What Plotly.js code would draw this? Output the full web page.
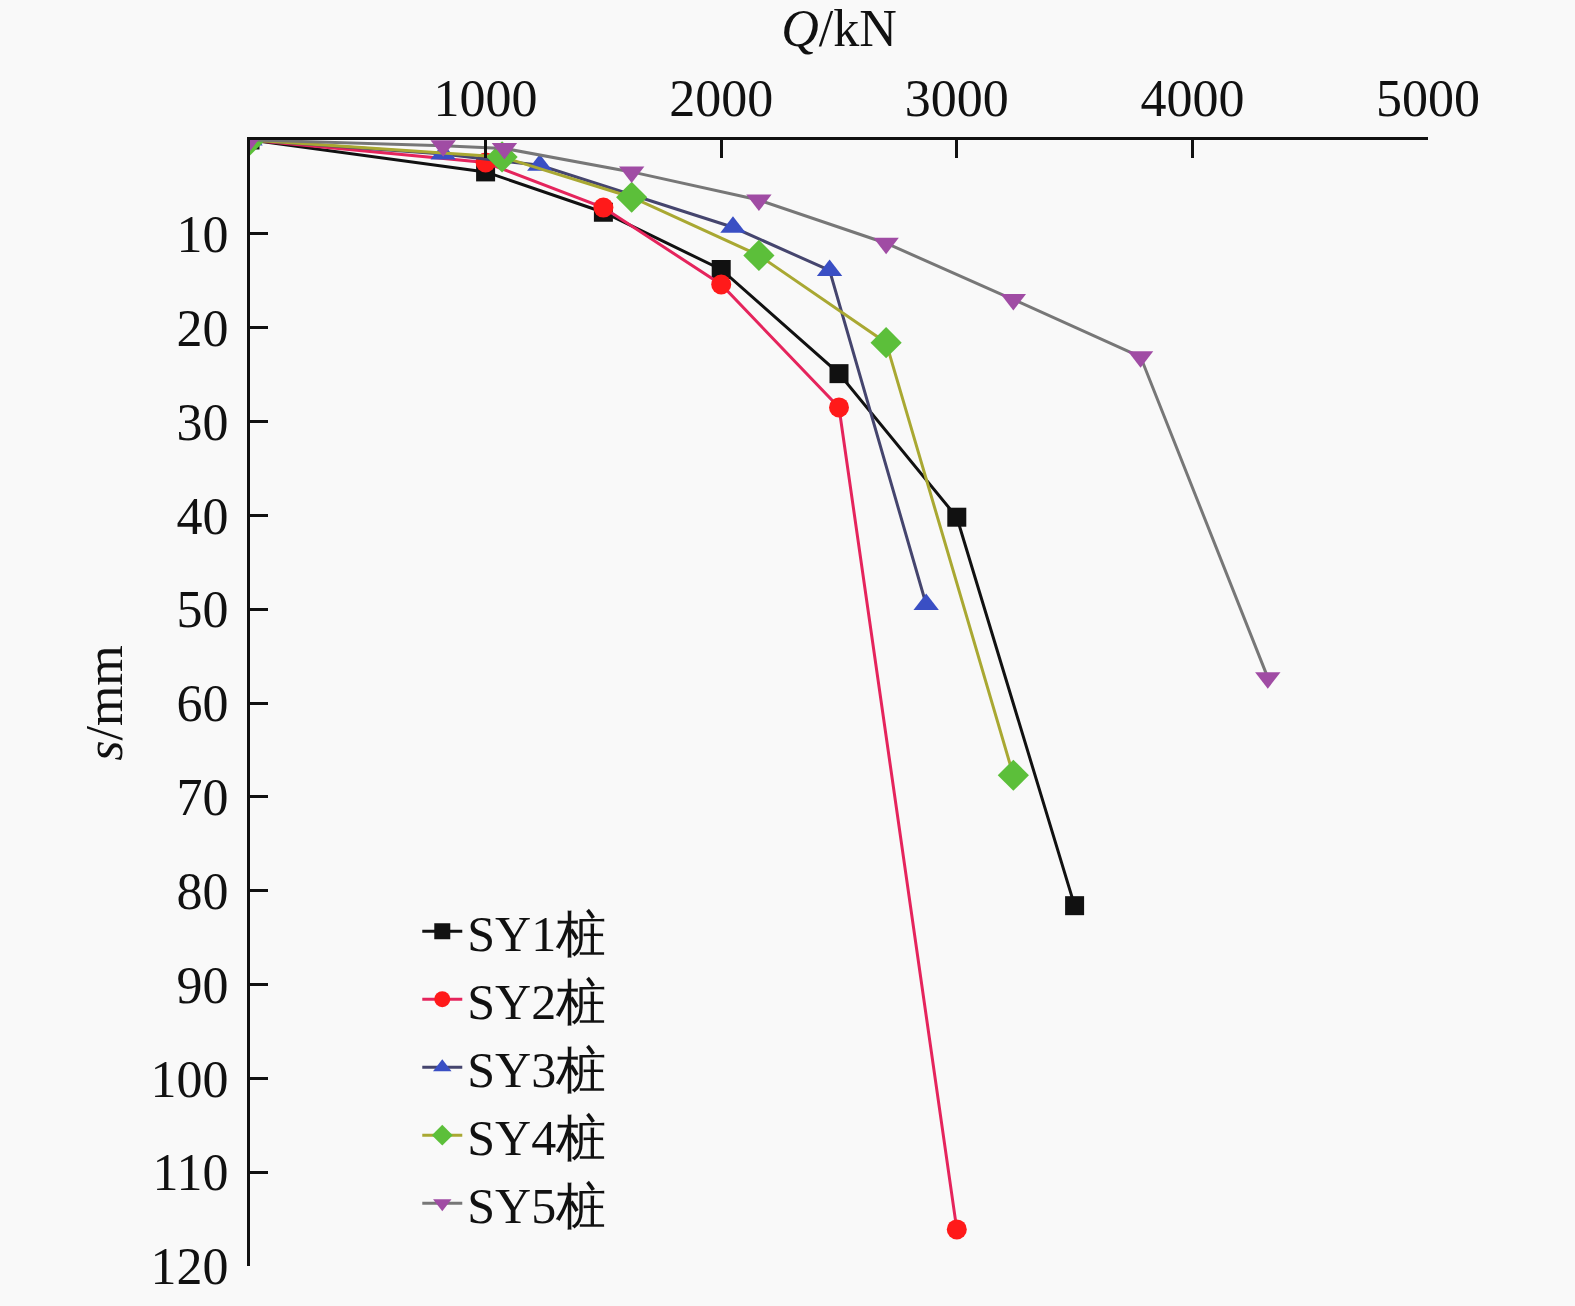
<!DOCTYPE html>
<html>
<head>
<meta charset="utf-8">
<script src="https://cdn.plot.ly/plotly-3.0.1.min.js"></script>
<style>
  body { margin: 0; background: #f9f9f9; }
  #chart { width: 1575px; height: 1306px; }
</style>
</head>
<body>
<div id="chart"></div>
<script>
// load Q (kN) and settlement s (mm)
var sy1Q = [0, 1000, 1500, 2000, 2500, 3000, 3500];
var sy1S = [0, 3.4, 7.7, 13.8, 24.9, 40.2, 81.6];

var sy2Q = [0, 1000, 1500, 2000, 2500, 3000];
var sy2S = [0, 2.4, 7.2, 15.4, 28.5, 116.1];

var sy3Q = [0, 820, 1230, 2050, 2460, 2870];
var sy3S = [0, 1.5, 2.7, 9.3, 13.9, 49.5];

var sy4Q = [0, 1070, 1620, 2160, 2700, 3240];
var sy4S = [0, 1.8, 6.1, 12.3, 21.6, 67.7];

var sy5Q = [0, 820, 1080, 1620, 2160, 2700, 3240, 3780, 4320];
var sy5S = [0, 0.6, 0.9, 3.4, 6.4, 11.0, 17.0, 23.1, 57.3];

var xTicks = [1000, 2000, 3000, 4000, 5000];
var yTicks = [10, 20, 30, 40, 50, 60, 70, 80, 90, 100, 110, 120];

var names = ["SY1桩", "SY2桩", "SY3桩", "SY4桩", "SY5桩"];

function serie(x, y, nom, lineColor, markColor, symbol, size){
  return {
    type: 'scatter',
    mode: 'lines+markers',
    name: nom,
    x: x,
    y: y,
    line: {color: lineColor, width: 3},
    marker: {color: markColor, symbol: symbol, size: size}
  };
}

var data = [
  serie(sy1Q, sy1S, names[0], '#111111', '#111111', 'square', 19),
  serie(sy2Q, sy2S, names[1], '#e5245c', '#ff1a1a', 'circle', 20),
  serie(sy3Q, sy3S, names[2], '#45456e', '#3a4fc4', 'triangle-up', 22),
  serie(sy4Q, sy4S, names[3], '#a9a832', '#5cbf3a', 'diamond', 24),
  serie(sy5Q, sy5S, names[4], '#777777', '#a04ca4', 'triangle-down', 22)
];

var font = {family: 'Liberation Serif, Times New Roman, serif', size: 52, color: '#111'};
var legFont = {family: 'Liberation Serif, Times New Roman, serif', size: 50, color: '#111'};

var layout = {
  width: 1575,
  height: 1306,
  paper_bgcolor: '#f9f9f9',
  plot_bgcolor: '#f9f9f9',
  margin: {l: 250, r: 147, t: 140, b: 40},
  font: font,
  showlegend: true,
  legend: {
    x: 0.142, y: 0.332, xanchor: 'left', yanchor: 'top',
    bgcolor: 'rgba(0,0,0,0)',
    font: legFont,
    tracegroupgap: 0,
    itemwidth: 40
  },
  xaxis: {
    side: 'top',
    range: [0, 5000],
    tickvals: xTicks,
    ticktext: xTicks.map(String),
    ticks: 'inside',
    ticklen: 18,
    tickwidth: 3,
    tickcolor: '#111',
    showline: true,
    linecolor: '#111',
    linewidth: 3,
    showgrid: false,
    zeroline: false,
    tickfont: font,
    title: {text: '<i>Q</i>/kN', font: font, standoff: 18}
  },
  yaxis: {
    range: [120, 0],
    tickvals: yTicks,
    ticktext: yTicks.map(String),
    ticks: 'inside',
    ticklen: 18,
    tickwidth: 3,
    tickcolor: '#111',
    showline: true,
    linecolor: '#111',
    linewidth: 3,
    showgrid: false,
    zeroline: false,
    tickfont: font,
    ticklabelstandoff: 8,
    title: {text: '<i>s</i>/mm', font: font, standoff: 12}
  }
};

Plotly.newPlot(document.getElementById('chart'), data, layout, {displayModeBar: false});
</script>
</body>
</html>
